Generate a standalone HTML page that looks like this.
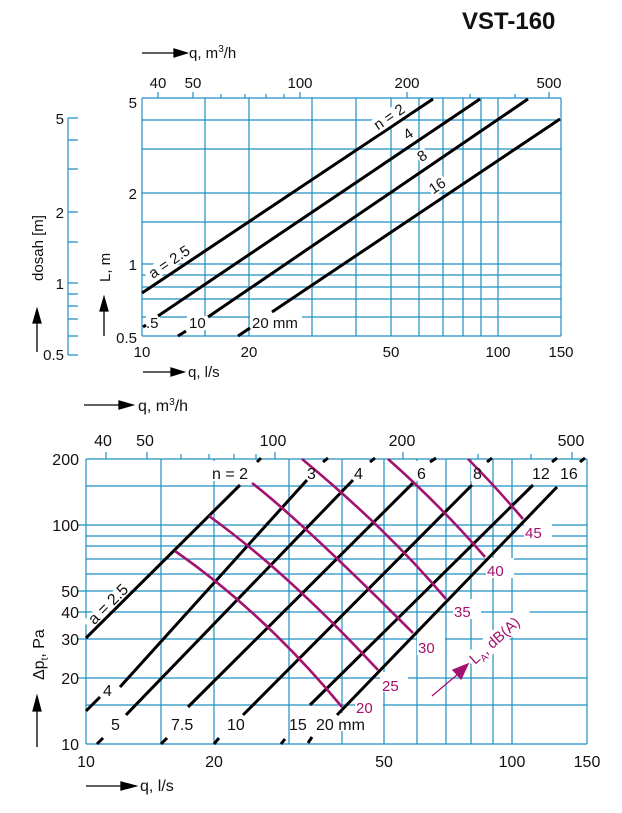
<!DOCTYPE html>
<html><head><meta charset="utf-8"><style>
html,body{margin:0;padding:0;background:#fff;}
svg{display:block;font-family:"Liberation Sans",sans-serif;}
</style></head><body>
<svg width="622" height="813" viewBox="0 0 622 813" xmlns="http://www.w3.org/2000/svg">
<text x="462" y="29" font-size="24" font-weight="bold" fill="#111">VST-160</text>

<!-- ===== TOP CHART ===== -->
<g stroke="#1f8fc4" stroke-width="1.2" fill="none">
  <path d="M142 98V336M205 98V336M249 98V336M312 98V336M356 98V336M391 98V336M419 98V336M443 98V336M463 98V336M481 98V336M498 98V336M561 98V336"/>
  <path d="M142 98H561M142 120H561M142 149H561M142 193H561M142 222H561M142 264H561M142 275H561M142 287H561M142 299H561M142 317H561M142 336H561"/>
  <path d="M158 98V92M193 98V92M221 98V94M245 98V94M266 98V94M284 98V94M300 98V92M407 98V92M470 98V94M515 98V94M549 98V92"/>
  <path d="M68 118V355M68 118H78M68 140H78M68 169H78M68 212H78M68 242H78M68 283H78M68 294H78M68 306H78M68 319H78M68 336H78M68 355H78"/>
</g>
<g fill="#fff">
  <rect x="146" y="316" width="14" height="14"/>
  <rect x="187" y="316" width="22" height="14"/>
  <rect x="250" y="316" width="52" height="14"/>
</g>
<g stroke="#000" stroke-width="3" stroke-linecap="butt">
  <line x1="142" y1="293" x2="433" y2="99"/>
  <line x1="158" y1="316" x2="480" y2="99"/>
  <line x1="208" y1="317" x2="528" y2="99"/>
  <line x1="272" y1="312" x2="560" y2="119"/>
  <line x1="178" y1="336" x2="186" y2="331"/>
  <line x1="238" y1="336" x2="250" y2="328"/>
  <line x1="143" y1="327" x2="146" y2="325"/>
</g>
<g font-size="15" fill="#111">
  <g transform="translate(392,121) rotate(-34)"><rect x="-18" y="-12" width="38" height="15" fill="#fff"/><text x="0" y="0" text-anchor="middle">n = 2</text></g>
  <g transform="translate(411,138) rotate(-34)"><rect x="-5" y="-12" width="11" height="14" fill="#fff"/><text x="0" y="0" text-anchor="middle">4</text></g>
  <g transform="translate(425,160) rotate(-34)"><rect x="-5" y="-12" width="11" height="14" fill="#fff"/><text x="0" y="0" text-anchor="middle">8</text></g>
  <g transform="translate(440,190) rotate(-34)"><rect x="-9" y="-12" width="19" height="14" fill="#fff"/><text x="0" y="0" text-anchor="middle">16</text></g>
  <g transform="translate(172,266) rotate(-34)"><rect x="-27" y="-12" width="54" height="14" fill="#fff"/><text x="0" y="0" text-anchor="middle">a = 2.5</text></g>
  <text x="146" y="328">.5</text>
  <text x="189" y="328">10</text>
  <text x="252" y="328">20 mm</text>
  <text x="137" y="108" text-anchor="end">5</text>
  <text x="137" y="199" text-anchor="end">2</text>
  <text x="137" y="270" text-anchor="end">1</text>
  <text x="137" y="343" text-anchor="end">0.5</text>
  <text x="64" y="124" text-anchor="end">5</text>
  <text x="64" y="218" text-anchor="end">2</text>
  <text x="64" y="289" text-anchor="end">1</text>
  <text x="64" y="360" text-anchor="end">0.5</text>
  <text x="142" y="357" text-anchor="middle">10</text>
  <text x="249" y="357" text-anchor="middle">20</text>
  <text x="391" y="357" text-anchor="middle">50</text>
  <text x="498" y="357" text-anchor="middle">100</text>
  <text x="561" y="357" text-anchor="middle">150</text>
  <text x="158" y="88" text-anchor="middle">40</text>
  <text x="193" y="88" text-anchor="middle">50</text>
  <text x="300" y="88" text-anchor="middle">100</text>
  <text x="407" y="88" text-anchor="middle">200</text>
  <text x="549" y="88" text-anchor="middle">500</text>
  <text x="189" y="58">q, m<tspan font-size="10" dy="-6">3</tspan><tspan dy="6">/h</tspan></text>
  <text x="188" y="377">q, l/s</text>
  <text transform="translate(110,282) rotate(-90)">L, m</text>
  <text transform="translate(43,248) rotate(-90)" text-anchor="middle">dosah [m]</text>
</g>
<g stroke="#000" stroke-width="1.3" fill="#000">
  <line x1="142" y1="53" x2="175" y2="53"/><path d="M174 49L187 53L174 57Z"/>
  <line x1="143" y1="372" x2="172" y2="372"/><path d="M171 368L184 372L171 376Z"/>
  <line x1="104" y1="336" x2="104" y2="310"/><path d="M100 311L104 297L108 311Z"/>
  <line x1="37" y1="352" x2="37" y2="322"/><path d="M33 323L37 309L41 323Z"/>
</g>

<!-- ===== BOTTOM CHART ===== -->
<g stroke="#1f8fc4" stroke-width="1.2" fill="none">
  <path d="M86 459V744M161 459V744M214 459V744M289 459V744M342 459V744M384 459V744M417 459V744M446 459V744M471 459V744M493 459V744M512 459V744M587 459V744"/>
  <path d="M86 459H587M86 486H587M86 525H587M86 536H587M86 546H587M86 559H587M86 574H587M86 591H587M86 612H587M86 639H587M86 678H587M86 705H587M86 744H587"/>
  <path d="M106 459V452M147 459V452M181 459V454M209 459V454M234 459V454M256 459V454M275 459V452M403 459V452M478 459V454M531 459V454M572 459V452"/>
  <path d="M78 525H86M78 591H86M78 612H86M78 639H86M78 678H86"/>
</g>
<g fill="#fff">
  <rect x="101" y="680" width="16" height="18"/>
  <rect x="108" y="713" width="16" height="18"/>
  <rect x="170" y="713" width="34" height="18"/>
  <rect x="225" y="713" width="24" height="18"/>
  <rect x="291" y="713" width="84" height="18"/>
  <rect x="210" y="461" width="52" height="20"/>
  <rect x="305" y="461" width="16" height="20"/>
  <rect x="352" y="461" width="16" height="20"/>
  <rect x="415" y="461" width="16" height="20"/>
  <rect x="471" y="461" width="16" height="20"/>
  <rect x="530" y="461" width="22" height="20"/>
  <rect x="563" y="461" width="22" height="20"/>
  <rect x="355" y="695" width="28" height="20"/>
  <rect x="380" y="672" width="28" height="20"/>
  <rect x="417" y="635" width="28" height="20"/>
  <rect x="453" y="599" width="28" height="20"/>
  <rect x="486" y="558" width="28" height="20"/>
  <rect x="524" y="520" width="28" height="20"/>
</g>
<g font-size="16" fill="#111">
  <g transform="translate(114,610) rotate(-45)"><rect x="-30" y="-14" width="60" height="12" fill="#fff"/><text x="0" y="-3" text-anchor="middle">a = 2.5</text></g>
</g>
<g stroke="#000" stroke-width="3">
  <line x1="86" y1="638" x2="240" y2="485"/>
  <line x1="257" y1="462" x2="261" y2="458"/>
  <line x1="86" y1="711" x2="100" y2="697"/>
  <line x1="120" y1="687" x2="307" y2="480"/>
  <line x1="323" y1="462" x2="328" y2="458"/>
  <line x1="97" y1="744" x2="103" y2="738"/>
  <line x1="126" y1="715" x2="353" y2="480"/>
  <line x1="370" y1="462" x2="375" y2="458"/>
  <line x1="161" y1="744" x2="167" y2="738"/>
  <line x1="188" y1="707" x2="413" y2="483"/>
  <line x1="430" y1="462" x2="436" y2="458"/>
  <line x1="214" y1="744" x2="219" y2="738"/>
  <line x1="243" y1="715" x2="472" y2="485"/>
  <line x1="487" y1="462" x2="492" y2="458"/>
  <line x1="281" y1="744" x2="285" y2="739"/>
  <line x1="310" y1="705" x2="533" y2="485"/>
  <line x1="552" y1="462" x2="557" y2="458"/>
  <line x1="308" y1="743" x2="312" y2="737"/>
  <line x1="337" y1="715" x2="557" y2="487"/>
  <line x1="580" y1="462" x2="585" y2="458"/>
</g>
<g stroke="#a3126f" stroke-width="2.6" fill="none">
  <path d="M175 551Q264 613 342 707"/>
  <path d="M209 516Q288 573 378 670"/>
  <path d="M252 483Q300 520 413 633"/>
  <path d="M302 459Q388 530 446 599"/>
  <path d="M388 459Q440 505 485 557"/>
  <path d="M468 459Q495 486 523 519"/>
</g>
<g stroke="#a3126f" stroke-width="1.3" fill="#a3126f">
  <line x1="432" y1="696" x2="458" y2="674"/><path d="M453 670L468 664L461 679Z"/>
</g>
<g font-size="15" fill="#a3126f">
  <text x="356" y="713">20</text>
  <text x="382" y="691">25</text>
  <text x="418" y="653">30</text>
  <text x="454" y="617">35</text>
  <text x="487" y="576">40</text>
  <text x="525" y="538">45</text>
  <g transform="translate(475,665) rotate(-42)"><rect x="-2" y="-14" width="78" height="18" fill="#fff"/><text x="0" y="0">L<tspan font-size="10" dy="4">A</tspan><tspan dy="-4">, dB(A)</tspan></text></g>
</g>
<g font-size="16" fill="#111">
  <text x="212" y="479">n = 2</text>
  <text x="307" y="479">3</text>
  <text x="354" y="479">4</text>
  <text x="417" y="479">6</text>
  <text x="473" y="479">8</text>
  <text x="532" y="479">12</text>
  <text x="560" y="479">16</text>
  <text x="103" y="696">4</text>
  <text x="111" y="730">5</text>
  <text x="171" y="730">7.5</text>
  <text x="227" y="730">10</text>
  <text x="289" y="730">15</text>
  <text x="316" y="730">20 mm</text>
  <text x="79" y="465" text-anchor="end">200</text>
  <text x="79" y="531" text-anchor="end">100</text>
  <text x="79" y="597" text-anchor="end">50</text>
  <text x="79" y="618" text-anchor="end">40</text>
  <text x="79" y="645" text-anchor="end">30</text>
  <text x="79" y="684" text-anchor="end">20</text>
  <text x="79" y="750" text-anchor="end">10</text>
  <text x="86" y="767" text-anchor="middle">10</text>
  <text x="214" y="767" text-anchor="middle">20</text>
  <text x="384" y="767" text-anchor="middle">50</text>
  <text x="512" y="767" text-anchor="middle">100</text>
  <text x="587" y="767" text-anchor="middle">150</text>
  <text x="103" y="446" text-anchor="middle">40</text>
  <text x="145" y="446" text-anchor="middle">50</text>
  <text x="273" y="446" text-anchor="middle">100</text>
  <text x="402" y="446" text-anchor="middle">200</text>
  <text x="571" y="446" text-anchor="middle">500</text>
  <text x="138" y="411">q, m<tspan font-size="10" dy="-6">3</tspan><tspan dy="6">/h</tspan></text>
  <text x="140" y="791">q, l/s</text>
  <text transform="translate(44,680) rotate(-90)">Δp<tspan font-size="10" dy="4">t</tspan><tspan dy="-4">, Pa</tspan></text>
</g>
<g stroke="#000" stroke-width="1.3" fill="#000">
  <line x1="84" y1="405" x2="120" y2="405"/><path d="M119 401L133 405L119 409Z"/>
  <line x1="86" y1="786" x2="122" y2="786"/><path d="M121 782L136 786L121 790Z"/>
  <line x1="37" y1="747" x2="37" y2="710"/><path d="M33 711L37 696L41 711Z"/>
</g>
</svg>
</body></html>
